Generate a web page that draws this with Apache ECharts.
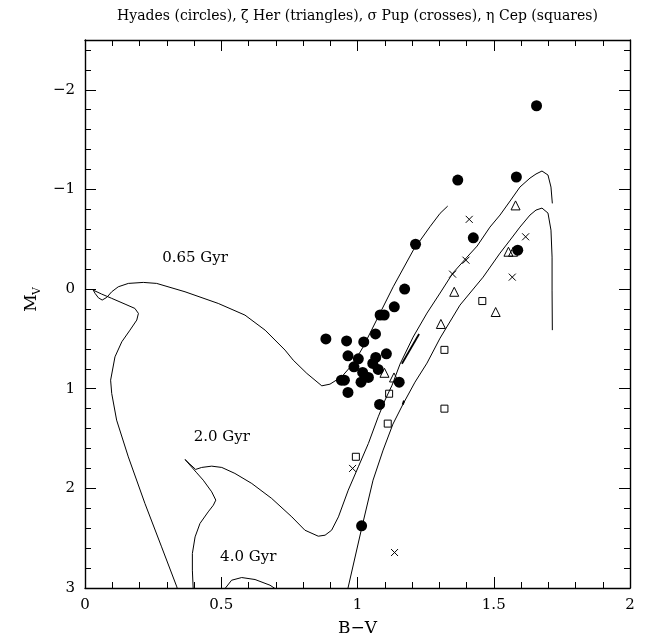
<!DOCTYPE html>
<html>
<head>
<meta charset="utf-8">
<script src="https://cdn.jsdelivr.net/npm/echarts@6/dist/echarts.min.js"></script>
<style>
  html, body { margin: 0; padding: 0; background: #fff; }
  #chart { width: 646px; height: 638px; }
</style>
</head>
<body>
<div id="chart"></div>
<script>
// Isochrones in the (B-V, M_V) plane, ordered along each track
const iso065 = [
  [0.349, 3.12], [0.337, 2.989], [0.281, 2.587], [0.220, 2.152], [0.159, 1.684],
  [0.116, 1.315], [0.098, 1.047], [0.094, 0.914], [0.110, 0.680], [0.135, 0.529],
  [0.165, 0.412], [0.190, 0.311], [0.196, 0.244], [0.183, 0.194], [0.147, 0.151],
  [0.098, 0.093], [0.061, 0.050], [0.030, 0.010], [0.025, 0.003],
  [0.037, 0.043], [0.049, 0.087], [0.063, 0.110], [0.080, 0.083], [0.098, 0.027],
  [0.122, -0.023], [0.159, -0.057], [0.214, -0.067], [0.263, -0.057], [0.367, 0.027],
  [0.489, 0.144], [0.587, 0.261], [0.661, 0.412], [0.734, 0.612], [0.764, 0.713],
  [0.814, 0.846], [0.869, 0.971], [0.899, 0.954], [0.942, 0.880], [0.985, 0.746],
  [1.021, 0.579], [1.070, 0.311], [1.131, -0.023], [1.205, -0.392], [1.266, -0.626],
  [1.303, -0.760], [1.331, -0.833]
];

const iso20 = [
  [0.400, 3.12], [0.397, 3.005], [0.394, 2.821], [0.394, 2.654], [0.404, 2.487],
  [0.422, 2.352], [0.452, 2.236], [0.471, 2.169], [0.480, 2.118], [0.465, 2.035],
  [0.434, 1.918], [0.410, 1.844], [0.367, 1.710], [0.385, 1.757], [0.406, 1.810],
  [0.428, 1.790], [0.465, 1.777], [0.502, 1.790], [0.550, 1.850], [0.612, 1.951],
  [0.685, 2.101], [0.759, 2.286], [0.807, 2.420], [0.856, 2.480], [0.881, 2.470],
  [0.905, 2.420], [0.930, 2.286], [0.966, 2.018], [1.003, 1.784], [1.040, 1.549],
  [1.076, 1.282], [1.101, 1.114], [1.127, 0.964], [1.156, 0.753], [1.204, 0.482],
  [1.255, 0.241], [1.303, 0.040], [1.350, -0.161], [1.402, -0.321], [1.439, -0.432],
  [1.486, -0.622], [1.523, -0.743], [1.560, -0.884], [1.596, -1.024], [1.633, -1.114],
  [1.655, -1.155], [1.677, -1.185], [1.699, -1.145], [1.710, -1.024], [1.715, -0.860]
];

// short doubled piece alongside the 2.0 Gyr giant branch
const iso20Clump = [[1.163, 0.75], [1.226, 0.45]];

const iso40 = [
  [0.500, 3.10], [0.514, 3.005], [0.538, 2.922], [0.575, 2.895], [0.624, 2.915],
  [0.679, 2.972], [0.697, 3.005], [0.752, 3.10], [0.862, 3.15], [0.936, 3.12],
  [0.965, 3.002], [1.017, 2.380], [1.057, 1.918], [1.094, 1.616], [1.130, 1.355],
  [1.167, 1.155], [1.211, 0.934], [1.255, 0.743], [1.303, 0.492], [1.376, 0.161],
  [1.461, -0.120], [1.523, -0.361], [1.560, -0.492], [1.596, -0.622], [1.633, -0.743],
  [1.655, -0.793], [1.677, -0.813], [1.699, -0.763], [1.710, -0.592], [1.714, -0.321],
  [1.714, 0.010], [1.715, 0.412]
];

// small knot on the 4.0 Gyr giant branch
const iso40Clump = [[1.166, 1.16], [1.171, 1.12]];

// Stars: [B-V, M_V]
const hyades = [
  [1.657, -1.84], [1.583, -1.125], [1.368, -1.094], [1.425, -0.515], [1.588, -0.39],
  [1.213, -0.45], [1.173, 0.0], [1.135, 0.178], [1.083, 0.26], [1.098, 0.26],
  [1.066, 0.45], [0.884, 0.50], [0.960, 0.52], [1.023, 0.53], [0.965, 0.67],
  [1.003, 0.70], [1.067, 0.686], [1.106, 0.65], [0.987, 0.78], [1.056, 0.746],
  [1.076, 0.806], [1.019, 0.836], [1.040, 0.887], [0.941, 0.914], [0.952, 0.914],
  [1.013, 0.934], [1.153, 0.934], [0.965, 1.037], [1.081, 1.158], [1.015, 2.376]
];
const zetaHer = [
  [1.580, -0.84], [1.554, -0.375], [1.571, -0.375], [1.355, 0.027], [1.507, 0.23],
  [1.306, 0.35], [1.099, 0.84], [1.134, 0.887]
];
const sigmaPup = [
  [1.410, -0.70], [1.617, -0.525], [1.398, -0.29], [1.349, -0.15], [1.568, -0.12],
  [0.982, 1.80], [1.136, 2.644]
];
const etaCep = [
  [1.458, 0.12], [1.319, 0.61], [1.319, 1.20], [1.116, 1.05], [1.111, 1.35],
  [0.994, 1.683]
];

// Age labels placed at data coordinates
const ageLabels = [
  { name: '0.65 Gyr', value: [0.404, -0.308] },
  { name: '2.0 Gyr', value: [0.502, 1.489] },
  { name: '4.0 Gyr', value: [0.599, 2.688] }
];

const xTicks = { min: 0, max: 2, step: 0.5 };
const yTicks = { min: -2.5, max: 3, step: 1 };

const titleText = 'Hyades (circles), \u03b6 Her (triangles), \u03c3 Pup (crosses), \u03b7 Cep (squares)';

const FONT = 'DejaVu Serif';
const INK = '#000';

const chart = echarts.init(document.getElementById('chart'), null, { renderer: 'canvas' });

function axisCommon(showLabels) {
  return {
    type: 'value',
    axisLine: { show: true, onZero: false, lineStyle: { color: INK, width: 1.4 } },
    axisTick: { show: true, inside: true, length: 11, lineStyle: { color: INK, width: 1 } },
    minorTick: { show: true, splitNumber: 5, length: 6, lineStyle: { color: INK, width: 1 } },
    splitLine: { show: false },
    minorSplitLine: { show: false },
    axisLabel: {
      show: showLabels, color: INK, fontFamily: FONT, fontSize: 15, margin: 10,
      formatter: function (v) {
        if (Math.abs(v - yTicks.min) < 1e-9 && v < 0 && v !== Math.round(v)) return '';
        return String(v).replace('-', '\u2212');
      }
    }
  };
}

const xBase = { min: xTicks.min, max: xTicks.max, interval: xTicks.step };
const yBase = { min: yTicks.min, max: yTicks.max, inverse: true, minInterval: yTicks.step, maxInterval: yTicks.step };

function lineSeries(data, width) {
  return {
    type: 'line', data: data, showSymbol: false, symbol: 'none', clip: true, silent: true,
    lineStyle: { color: INK, width: width || 1, opacity: 1 }, z: 2, animation: false
  };
}

function starSeries(data, symbol, size, filled) {
  return {
    type: 'scatter', data: data, symbol: symbol, symbolSize: size, silent: true, z: filled ? 4 : 5,
    itemStyle: filled
      ? { color: INK, opacity: 1 }
      : { color: 'transparent', borderColor: INK, borderWidth: 1, opacity: 1 }
  };
}

const option = {
  animation: false,
  backgroundColor: '#fff',
  grid: { left: 85, right: 16, top: 40, bottom: 50, containLabel: false },
  xAxis: [
    Object.assign({}, axisCommon(true), xBase, { position: 'bottom' }),
    Object.assign({}, axisCommon(false), xBase, { position: 'top' })
  ],
  yAxis: [
    Object.assign({}, axisCommon(true), yBase, { position: 'left' }),
    Object.assign({}, axisCommon(false), yBase, { position: 'right' })
  ],
  graphic: [
    {
      type: 'text', x: 357.5, y: 16,
      style: { text: titleText, font: '14px "' + FONT + '"', fill: INK, textAlign: 'center', textVerticalAlign: 'middle' }
    },
    {
      type: 'text', x: 357.5, y: 629,
      style: { text: 'B\u2212V', font: '17px "' + FONT + '"', fill: INK, textAlign: 'center', textVerticalAlign: 'middle' }
    },
    {
      type: 'group', x: 32, y: 300, rotation: Math.PI / 2,
      children: [
        { type: 'text', x: -3, y: 0, style: { text: 'M', font: '17px "' + FONT + '"', fill: INK, textAlign: 'center', textVerticalAlign: 'middle' } },
        { type: 'text', x: 9, y: 5, style: { text: 'V', font: '11px "' + FONT + '"', fill: INK, textAlign: 'center', textVerticalAlign: 'middle' } }
      ]
    }
  ],
  series: [
    lineSeries(iso065),
    lineSeries(iso20),
    lineSeries(iso20Clump, 1.8),
    lineSeries(iso40),
    lineSeries(iso40Clump, 2),
    starSeries(hyades, 'circle', 11, true),
    starSeries(zetaHer, 'triangle', 9, false),
    starSeries(sigmaPup, 'path://M0,0L10,10M10,0L0,10', 7, false),
    starSeries(etaCep, 'rect', 7, false),
    {
      type: 'scatter', data: ageLabels, symbolSize: 1, silent: true,
      itemStyle: { color: 'transparent', opacity: 1 },
      label: { show: true, position: 'inside', formatter: '{b}', color: INK, opacity: 1, fontFamily: FONT, fontSize: 15 }
    }
  ]
};

chart.setOption(option);
</script>
</body>
</html>
